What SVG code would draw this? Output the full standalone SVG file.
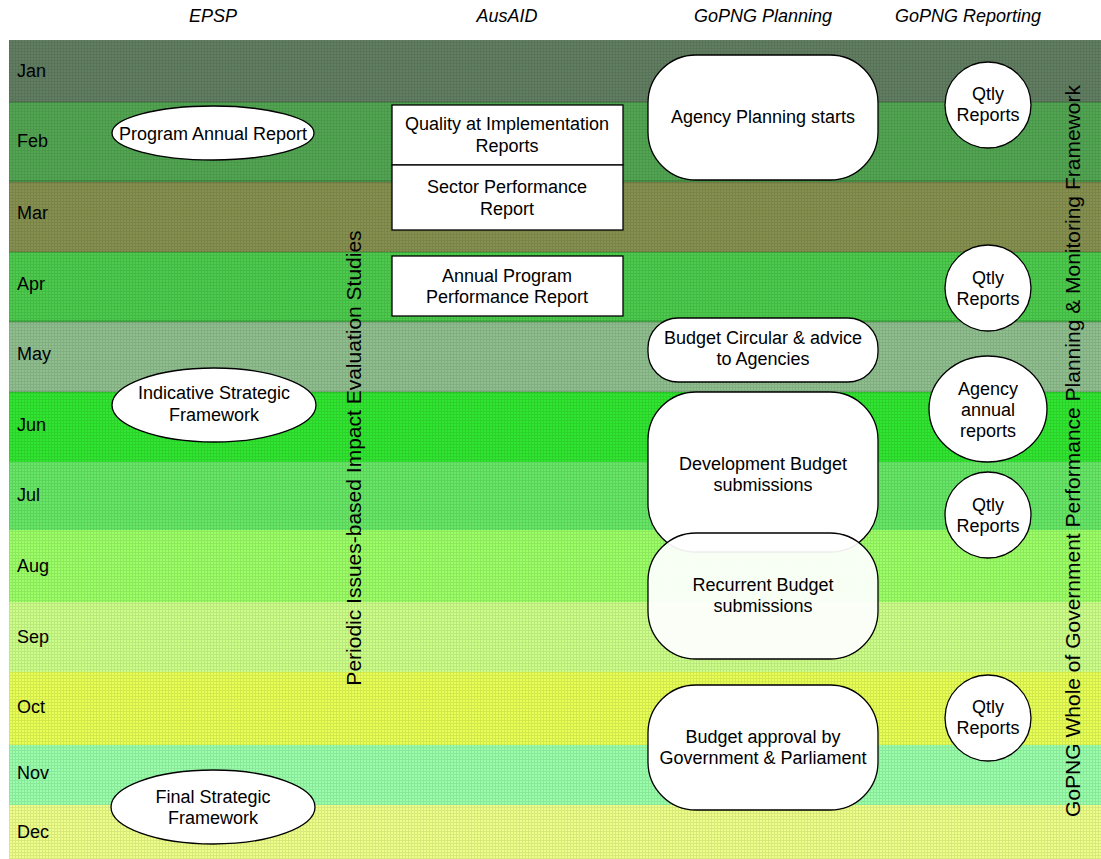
<svg xmlns="http://www.w3.org/2000/svg" width="1101" height="859" viewBox="0 0 1101 859">
  <defs>
    <!-- fine mesh laid over the month bands -->
    <pattern id="mesh" width="3" height="3" patternUnits="userSpaceOnUse">
      <rect x="0" y="0" width="3" height="1" fill="#000" fill-opacity="0.09"/>
      <rect x="0" y="1" width="1" height="2" fill="#000" fill-opacity="0.09"/>
    </pattern>
    <style>
      .hdr { font-family: "Liberation Sans", Arial, sans-serif; font-size: 18px; font-style: italic; fill: #000; text-anchor: middle; }
      .mon { font-family: "Liberation Sans", Arial, sans-serif; font-size: 18px; fill: #000; }
      .lbl { font-family: "Liberation Sans", Arial, sans-serif; font-size: 18px; fill: #000; text-anchor: middle; }
      .vert { font-family: "Liberation Sans", Arial, sans-serif; font-size: 21px; fill: #000; text-anchor: middle; }
      .shape { fill: #fff; stroke: #000; stroke-width: 1.3; }
    </style>
  </defs>

  <rect x="0" y="0" width="1101" height="859" fill="#fff"/>

  <!-- month bands -->
  <g id="bands">
    <rect x="9" y="40" width="1092" height="62" fill="#627e62"/>
    <rect x="9" y="102" width="1092" height="80" fill="#52a652"/>
    <rect x="9" y="182" width="1092" height="70" fill="#86904f"/>
    <rect x="9" y="252" width="1092" height="70" fill="#4ccb4c"/>
    <rect x="9" y="322" width="1092" height="70" fill="#8fbf8f"/>
    <rect x="9" y="392" width="1092" height="70" fill="#30e630"/>
    <rect x="9" y="462" width="1092" height="68" fill="#66e866"/>
    <rect x="9" y="530" width="1092" height="72" fill="#9cff66"/>
    <rect x="9" y="602" width="1092" height="70" fill="#ccff88"/>
    <rect x="9" y="672" width="1092" height="73" fill="#e8ff55"/>
    <rect x="9" y="745" width="1092" height="60" fill="#99ffaa"/>
    <rect x="9" y="805" width="1092" height="54" fill="#eeff88"/>
    <rect x="9" y="40" width="1092" height="819" fill="url(#mesh)"/>
    <!-- darker seams between bands -->
    <g fill="#000" fill-opacity="0.12">
      <rect x="9" y="101" width="1092" height="2"/>
      <rect x="9" y="180" width="1092" height="3"/>
      <rect x="9" y="251" width="1092" height="2"/>
      <rect x="9" y="320" width="1092" height="3"/>
      <rect x="9" y="391" width="1092" height="2"/>
    </g>
  </g>

  <!-- column headers -->
  <g id="headers">
    <text class="hdr" x="213" y="22">EPSP</text>
    <text class="hdr" x="507" y="22">AusAID</text>
    <text class="hdr" x="763" y="22">GoPNG Planning</text>
    <text class="hdr" x="968" y="22">GoPNG Reporting</text>
  </g>

  <!-- month labels -->
  <g id="months">
    <text class="mon" x="17" y="77">Jan</text>
    <text class="mon" x="17" y="147">Feb</text>
    <text class="mon" x="17" y="219">Mar</text>
    <text class="mon" x="17" y="290">Apr</text>
    <text class="mon" x="17" y="360">May</text>
    <text class="mon" x="17" y="431">Jun</text>
    <text class="mon" x="17" y="501">Jul</text>
    <text class="mon" x="17" y="572">Aug</text>
    <text class="mon" x="17" y="643">Sep</text>
    <text class="mon" x="17" y="713">Oct</text>
    <text class="mon" x="17" y="779">Nov</text>
    <text class="mon" x="17" y="838">Dec</text>
  </g>

  <!-- EPSP -->
  <g id="program-annual-report">
    <ellipse class="shape" cx="213" cy="133" rx="101" ry="27"/>
    <text class="lbl" x="213" y="140">Program Annual Report</text>
  </g>
  <g id="indicative-strategic-framework">
    <ellipse class="shape" cx="214" cy="405" rx="102" ry="37"/>
    <text class="lbl" x="214" y="399">Indicative Strategic</text>
    <text class="lbl" x="214" y="421">Framework</text>
  </g>
  <g id="final-strategic-framework">
    <ellipse class="shape" cx="213" cy="807" rx="102" ry="37"/>
    <text class="lbl" x="213" y="803">Final Strategic</text>
    <text class="lbl" x="213" y="824">Framework</text>
  </g>

  <!-- vertical band labels -->
  <g id="impact-studies">
    <text class="vert" transform="translate(361 458) rotate(-90)">Periodic Issues-based Impact Evaluation Studies</text>
  </g>
  <g id="whole-of-government-framework">
    <text class="vert" transform="translate(1080 451) rotate(-90)">GoPNG Whole of Government Performance Planning &amp; Monitoring Framework</text>
  </g>

  <!-- AusAID -->
  <g id="quality-at-implementation">
    <rect class="shape" x="392" y="105" width="231" height="60"/>
    <text class="lbl" x="507" y="130">Quality at Implementation</text>
    <text class="lbl" x="507" y="152">Reports</text>
  </g>
  <g id="sector-performance">
    <rect class="shape" x="392" y="165" width="231" height="65"/>
    <text class="lbl" x="507" y="193">Sector Performance</text>
    <text class="lbl" x="507" y="215">Report</text>
  </g>
  <g id="annual-program-performance">
    <rect class="shape" x="392" y="256" width="231" height="60"/>
    <text class="lbl" x="507" y="282">Annual Program</text>
    <text class="lbl" x="507" y="303">Performance Report</text>
  </g>

  <!-- GoPNG Planning -->
  <g id="agency-planning">
    <rect class="shape" x="648" y="55" width="230" height="125" rx="48" ry="48"/>
    <text class="lbl" x="763" y="123">Agency Planning starts</text>
  </g>
  <g id="budget-circular">
    <rect class="shape" x="648" y="318" width="230" height="64" rx="30" ry="30"/>
    <text class="lbl" x="763" y="344">Budget Circular &amp; advice</text>
    <text class="lbl" x="763" y="365">to Agencies</text>
  </g>
  <g id="development-budget">
    <rect class="shape" x="648" y="392" width="230" height="160" rx="48" ry="48"/>
    <text class="lbl" x="763" y="470">Development Budget</text>
    <text class="lbl" x="763" y="491">submissions</text>
  </g>
  <g id="recurrent-budget">
    <rect x="648" y="533" width="230" height="126" rx="48" ry="48" fill="#fff" fill-opacity="0.93" stroke="#000" stroke-width="1.3"/>
    <text class="lbl" x="763" y="591">Recurrent Budget</text>
    <text class="lbl" x="763" y="612">submissions</text>
  </g>
  <g id="budget-approval">
    <rect class="shape" x="648" y="685" width="230" height="125" rx="48" ry="48"/>
    <text class="lbl" x="763" y="743">Budget approval by</text>
    <text class="lbl" x="763" y="764">Government &amp; Parliament</text>
  </g>

  <!-- GoPNG Reporting -->
  <g id="qtly-1">
    <circle class="shape" cx="988" cy="105" r="43"/>
    <text class="lbl" x="988" y="100">Qtly</text>
    <text class="lbl" x="988" y="121">Reports</text>
  </g>
  <g id="qtly-2">
    <circle class="shape" cx="988" cy="288" r="43"/>
    <text class="lbl" x="988" y="284">Qtly</text>
    <text class="lbl" x="988" y="305">Reports</text>
  </g>
  <g id="agency-annual-reports">
    <ellipse class="shape" cx="988" cy="409" rx="59" ry="53"/>
    <text class="lbl" x="988" y="395">Agency</text>
    <text class="lbl" x="988" y="416">annual</text>
    <text class="lbl" x="988" y="437">reports</text>
  </g>
  <g id="qtly-3">
    <circle class="shape" cx="988" cy="515" r="43"/>
    <text class="lbl" x="988" y="511">Qtly</text>
    <text class="lbl" x="988" y="532">Reports</text>
  </g>
  <g id="qtly-4">
    <circle class="shape" cx="988" cy="718" r="43"/>
    <text class="lbl" x="988" y="713">Qtly</text>
    <text class="lbl" x="988" y="734">Reports</text>
  </g>

  <!-- no connectors in this chart -->
  <g id="connectors"/>
</svg>
